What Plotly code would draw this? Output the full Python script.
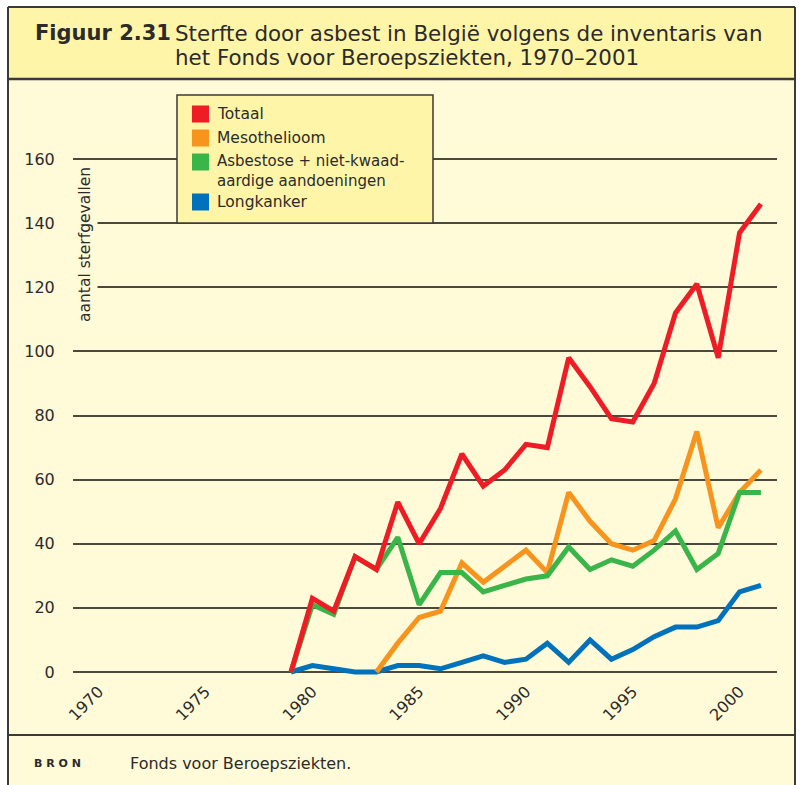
import plotly.graph_objects as go

# Sterfgevallen door asbest, België 1970-2001 (Fonds voor Beroepsziekten)
years = list(range(1979, 2002))
totaal = [0, 23, 19, 36, 32, 53, 40, 51, 68, 58, 63, 71, 70, 98, 89, 79, 78, 90, 112, 121, 98, 137, 146]
mesothelioom = [None, None, None, None, 0, 9, 17, 19, 34, 28, 33, 38, 31, 56, 47, 40, 38, 41, 54, 75, 45, 56, 63]
asbestose = [0, 21, 18, 36, 32, 42, 21, 31, 31, 25, 27, 29, 30, 39, 32, 35, 33, 38, 44, 32, 37, 56, 56]
longkanker = [0, 2, 1, 0, 0, 2, 2, 1, 3, 5, 3, 4, 9, 3, 10, 4, 7, 11, 14, 14, 16, 25, 27]

x_ticks = [1970, 1975, 1980, 1985, 1990, 1995, 2000]
y_ticks = [0, 20, 40, 60, 80, 100, 120, 140, 160]

series_names = ["Totaal", "Mesothelioom", "Asbestose + niet-kwaad-<br>aardige aandoeningen", "Longkanker"]
series_colors = ["#EE1C25", "#F7941D", "#39B54A", "#0072BC"]

W, H = 803, 785
ML, MR, MT, MB = 73, 26, 90, 95
PW, PH = W - ML - MR, H - MT - MB

FONT = "DejaVu Sans"
TEXT = "#2b2b2b"
BAND = "#FFF5A8"
BODY = "#FFFAD8"
EDGE = "#3a3a3a"


def px(x):
    return (x - ML) / PW


def py(y):
    return (H - MB - y) / PH


fig = go.Figure()

# drawing order: blue underneath, red on top
for vals, col in [(longkanker, series_colors[3]), (mesothelioom, series_colors[1]),
                  (asbestose, series_colors[2]), (totaal, series_colors[0])]:
    fig.add_trace(go.Scatter(x=years, y=vals, mode="lines", line=dict(color=col, width=5),
                             showlegend=False, hoverinfo="skip", connectgaps=False))

shapes = []
ann = []


def label(x, y, text, size, anchor="left", **kw):
    ann.append(dict(xref="paper", yref="paper", x=px(x), y=py(y), text=text, showarrow=False,
                    xanchor=anchor, yanchor="middle", align="left",
                    font=dict(family=FONT, size=size, color=TEXT), **kw))


# panel background and frame
shapes.append(dict(type="rect", xref="paper", yref="paper", x0=px(8), x1=px(795), y0=py(790), y1=py(79),
                   fillcolor=BODY, line=dict(width=0), layer="below"))
shapes.append(dict(type="rect", xref="paper", yref="paper", x0=px(8), x1=px(795), y0=py(79), y1=py(7),
                   fillcolor=BAND, line=dict(width=0), layer="below"))
for x0, y0, x1, y1, w in [(8, 7, 795, 7, 2), (8, 7, 8, 790, 2), (795, 7, 795, 790, 2),
                          (8, 79, 795, 79, 2.5), (8, 735, 795, 735, 2)]:
    shapes.append(dict(type="line", xref="paper", yref="paper", x0=px(x0), x1=px(x1), y0=py(y0), y1=py(y1),
                       line=dict(color=EDGE, width=w), layer="above"))

# legend box
shapes.append(dict(type="rect", xref="paper", yref="paper", x0=px(177), x1=px(433), y0=py(223), y1=py(95),
                   fillcolor=BAND, line=dict(color=EDGE, width=1.5), layer="above"))
legend_y = [114, 138, 162, 202]
for name, col, yc in zip(series_names, series_colors, legend_y):
    shapes.append(dict(type="rect", xref="paper", yref="paper", x0=px(192), x1=px(209),
                       y0=py(yc + 8.5), y1=py(yc - 8.5), fillcolor=col, line=dict(width=0), layer="above"))
    two = "<br>" in name
    label(215, yc + 8.5 if two else yc, name, 15 if two else 15.5)

# title
label(33, 33, "<b>Figuur 2.31</b>", 21)
label(173, 33, "Sterfte door asbest in België volgens de inventaris van", 21.4)
label(173, 57, "het Fonds voor Beroepsziekten, 1970–2001", 21.4)

# y-axis title, masking the grid behind it
label(85, 245, "aantal sterfgevallen", 15.5, anchor="center", textangle=-90, bgcolor=BODY, borderpad=3)

# source line
label(32, 763, "<b>B R O N</b>", 11)
label(128, 763, "Fonds voor Beroepsziekten.", 16)

x0_year = 1979
ppy = 21.36
upp = 3.206
fig.update_layout(
    width=W, height=H,
    margin=dict(l=ML, r=MR, t=MT, b=MB),
    paper_bgcolor="white",
    plot_bgcolor="rgba(0,0,0,0)",
    showlegend=False,
    shapes=shapes,
    annotations=ann,
    xaxis=dict(range=[x0_year - (291 - ML) / ppy, x0_year + (ML + PW - 291) / ppy],
               tickvals=x_ticks, tickangle=-45, showgrid=False, zeroline=False, showline=False,
               ticks="outside", ticklen=3, tickcolor="rgba(0,0,0,0)",
               anchor="free", position=py(672),
               tickfont=dict(family=FONT, size=16, color=TEXT)),
    yaxis=dict(range=[-(H - MB - 672) / upp, (672 - MT) / upp], tickvals=y_ticks,
               showgrid=True, gridcolor="#4a4840", gridwidth=1.5, zeroline=False, showline=False,
               ticks="outside", ticklen=14, tickcolor="rgba(0,0,0,0)",
               tickfont=dict(family=FONT, size=16, color=TEXT)),
)

fig.write_html("out.html")
